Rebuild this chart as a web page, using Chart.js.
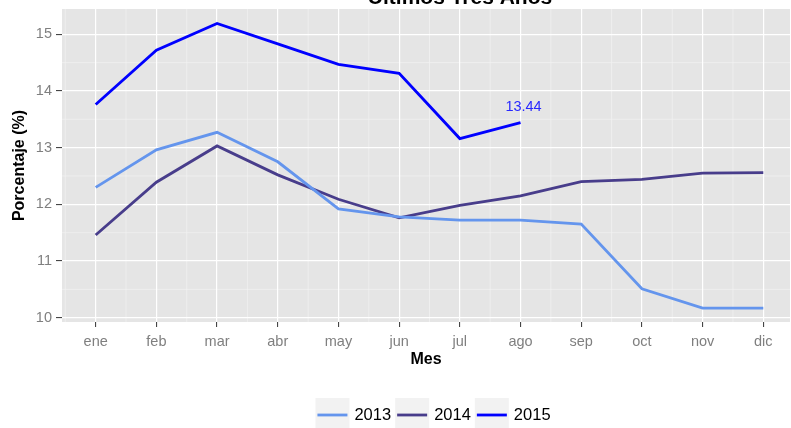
<!DOCTYPE html>
<html lang="es">
<head>
<meta charset="UTF-8">
<title>Últimos Tres Años</title>
<script src="https://cdn.jsdelivr.net/npm/chart.js"></script>
<style>
  html, body { margin: 0; padding: 0; background: #fff; overflow: hidden; }
  #chart { display: block; }
</style>
</head>
<body>
<canvas id="chart" width="791" height="428"></canvas>
<script>
// Datos
const months = ['ene', 'feb', 'mar', 'abr', 'may', 'jun', 'jul', 'ago', 'sep', 'oct', 'nov', 'dic'];
const years = ['2013', '2014', '2015'];
const values2013 = [12.30, 12.96, 13.27, 12.75, 11.92, 11.78, 11.72, 11.72, 11.65, 10.51, 10.17, 10.17];
const values2014 = [11.46, 12.39, 13.03, 12.52, 12.09, 11.76, 11.98, 12.15, 12.40, 12.44, 12.55, 12.56];
const values2015 = [13.76, 14.72, 15.19, 14.83, 14.47, 14.31, 13.16, 13.44];
const yTicks = [10, 11, 12, 13, 14, 15];
const colors = ['#6495ED', '#483D8B', '#0000FF'];

const FONT = '"Liberation Sans", Arial, Helvetica, sans-serif';

function toPoints(vals) {
    return vals.map((v, i) => ({ x: i, y: v }));
}

// fondo gris + líneas menores
const panelBg = {
    id: 'panelBg',
    beforeDraw(chart) {
        const { ctx, chartArea: a, scales } = chart;
        ctx.save();
        ctx.fillStyle = '#E5E5E5';
        ctx.fillRect(a.left, a.top, a.right - a.left, a.bottom - a.top);
        ctx.strokeStyle = '#F2F2F2';
        ctx.lineWidth = 0.7;
        ctx.beginPath();
        for (let i = -1; i < months.length; i++) {
            const x = scales.x.getPixelForValue(i + 0.5);
            if (x < a.left || x > a.right) continue;
            ctx.moveTo(x, a.top);
            ctx.lineTo(x, a.bottom);
        }
        for (let i = 0; i < yTicks.length; i++) {
            const y = scales.y.getPixelForValue(yTicks[i] + 0.5);
            if (y < a.top || y > a.bottom) continue;
            ctx.moveTo(a.left, y);
            ctx.lineTo(a.right, y);
        }
        ctx.stroke();
        ctx.restore();
    }
};

// etiqueta del último valor, título y leyenda
const extras = {
    id: 'extras',
    afterDatasetsDraw(chart) {
        const { ctx } = chart;
        const meta = chart.getDatasetMeta(2);
        const last = meta.data[meta.data.length - 1];
        ctx.save();
        ctx.fillStyle = '#2828FF';
        ctx.font = '14.5px ' + FONT;
        ctx.textAlign = 'center';
        ctx.textBaseline = 'middle';
        ctx.fillText(values2015[values2015.length - 1].toFixed(2), last.x + 3, last.y - 16);
        ctx.restore();
    },
    afterDraw(chart) {
        const { ctx } = chart;
        ctx.save();
        // título (recortado arriba como en la imagen)
        ctx.fillStyle = '#000';
        ctx.font = 'bold 21px ' + FONT;
        ctx.textAlign = 'center';
        ctx.textBaseline = 'alphabetic';
        ctx.fillText('Últimos Tres Años', 460, 3.5);

        // leyenda
        ctx.font = '16.5px ' + FONT;
        ctx.textBaseline = 'middle';
        ctx.textAlign = 'left';
        const keyW = 34, keyH = 34, gap = 5, itemGap = 4;
        const cy = 415;
        let total = 0;
        const widths = years.map(t => ctx.measureText(t).width);
        widths.forEach(w => { total += keyW + gap + w; });
        total += itemGap * (years.length - 1);
        let x = 433 - total / 2;
        years.forEach((t, i) => {
            ctx.fillStyle = '#F2F2F2';
            ctx.fillRect(x, cy - keyH / 2, keyW, keyH);
            ctx.strokeStyle = colors[i];
            ctx.lineWidth = 2.8;
            ctx.beginPath();
            ctx.moveTo(x + 2, cy);
            ctx.lineTo(x + keyW - 2, cy);
            ctx.stroke();
            ctx.fillStyle = '#000';
            ctx.fillText(t, x + keyW + gap, cy);
            x += keyW + gap + widths[i] + itemGap;
        });
        ctx.restore();
    }
};

const lineDs = (label, vals, color) => ({
    label: label,
    data: toPoints(vals),
    borderColor: color,
    backgroundColor: color,
    borderWidth: 2.8,
    pointRadius: 0,
    tension: 0,
    fill: false
});

new Chart(document.getElementById('chart'), {
    type: 'line',
    data: {
        datasets: [
            lineDs(years[0], values2013, colors[0]),
            lineDs(years[1], values2014, colors[1]),
            lineDs(years[2], values2015, colors[2])
        ]
    },
    options: {
        responsive: false,
        animation: false,
        layout: { padding: { left: 0, right: 1, top: 9, bottom: 57 } },
        plugins: {
            legend: { display: false },
            tooltip: { enabled: false },
            title: { display: false }
        },
        scales: {
            x: {
                type: 'linear',
                min: -0.555,
                max: 11.44,
                afterBuildTicks: s => { s.ticks = months.map((m, i) => ({ value: i })); },
                afterFit: s => { s.height = 49; s.paddingLeft = 0; s.paddingRight = 0; },
                ticks: {
                    callback: v => months[v],
                    color: '#7F7F7F',
                    font: { family: FONT, size: 14.5 },
                    padding: 6,
                    maxRotation: 0,
                    autoSkip: false
                },
                grid: { color: '#FFFFFF', lineWidth: 1.2, tickColor: '#333333', tickLength: 5, tickWidth: 1 },
                border: { display: false },
                title: {
                    display: true,
                    text: 'Mes',
                    color: '#000',
                    font: { family: FONT, size: 16, weight: 'bold' },
                    padding: { top: 0, bottom: 1.4 }
                }
            },
            y: {
                type: 'linear',
                min: 9.924,
                max: 15.446,
                afterBuildTicks: s => { s.ticks = yTicks.map(v => ({ value: v })); },
                afterFit: s => { s.width = 62; s.paddingTop = 0; s.paddingBottom = 0; },
                ticks: {
                    color: '#7F7F7F',
                    font: { family: FONT, size: 14.5 },
                    padding: 4
                },
                grid: { color: '#FFFFFF', lineWidth: 1.2, tickColor: '#333333', tickLength: 6, tickWidth: 1 },
                border: { display: false },
                title: {
                    display: true,
                    text: 'Porcentaje (%)',
                    color: '#000',
                    font: { family: FONT, size: 16, weight: 'bold' },
                    padding: { top: 10.4, bottom: 0 }
                }
            }
        }
    },
    plugins: [panelBg, extras]
});
</script>
</body>
</html>
